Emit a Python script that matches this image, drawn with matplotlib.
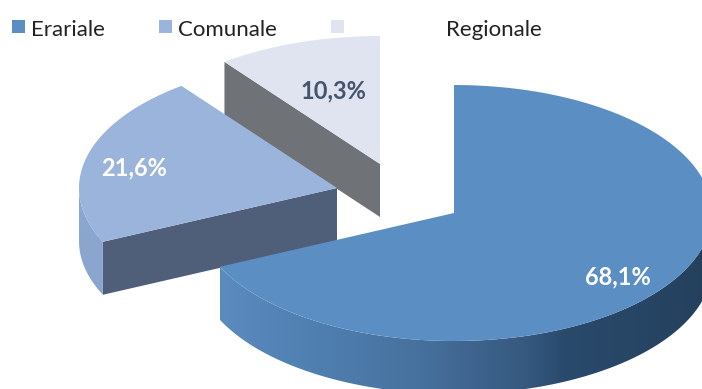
import numpy as np
import matplotlib
matplotlib.use("Agg")
import matplotlib.pyplot as plt
from matplotlib.colors import LinearSegmentedColormap
from matplotlib.patches import Polygon, Rectangle

labels = ["Erariale", "Comunale", "Regionale"]
values = [68.1, 21.6, 10.3]
value_text = ["68,1%", "21,6%", "10,3%"]
top_colors = ["#5b8fc4", "#9ab4dc", "#dfe4f0"]
rim_colors = [[(0, "#5b8bbf"), (0.2, "#4f7fb0"), (0.4, "#47719e"), (0.62, "#36597f"),
               (0.7, "#2a4a6c"), (1, "#24405c")],
              [(0, "#8ba6cf"), (1, "#8ba6cf")],
              [(0, "#c5cad6"), (1, "#c5cad6")]]
wall_colors = ["#3f5f85", "#505f79", "#6f7277"]
text_colors = ["white", "white", "#44546a"]

# pie geometry in pixels
rx = 258
ry = 128
depth = 53
apex = [(454, 213), (337, 188), (380, 164)]
label_pos = [(618, 277), (134, 168), (333, 91)]
legend_box = [12, 159, 331]
legend_text = [31, 178, 446]

plt.rcParams['font.family'] = ['Lato', 'DejaVu Sans']

fig = plt.figure(figsize=(7.02, 3.89), dpi=100)
ax = fig.add_axes([0, 0, 1, 1])


def ellipse_pt(c, t):
    # t in degrees, clockwise from the top of the pie
    r = np.radians(t)
    return c[0] + rx * np.sin(r), c[1] - ry * np.cos(r)


edges = np.concatenate([[0], np.cumsum(values)]) * 3.6
ramp = np.linspace(0, 1, 256).reshape(1, -1)

# back to front: smallest slice first, biggest last
for i in [2, 1, 0]:
    c = apex[i]
    t0, t1 = edges[i], edges[i + 1]
    side_z = -3 - 3 * i
    xs, ys = ellipse_pt(c, np.linspace(t0, t1, 200))

    # inner wall that faces the viewer
    if i > 0:
        p = ellipse_pt(c, t0)
        ax.add_patch(Polygon([p, c, (c[0], c[1] + depth), (p[0], p[1] + depth)],
                             fc=wall_colors[i], ec="none", zorder=side_z))

    # outer rim, only the front half of the ellipse shows
    if t0 < 270:
        rim_x, rim_y = ellipse_pt(c, np.linspace(max(t0, 90), min(t1, 270), 240))
        outline = np.column_stack([np.r_[rim_x, rim_x[::-1]],
                                   np.r_[rim_y, rim_y[::-1] + depth]])
        clip = Polygon(outline, transform=ax.transData, fc="none", ec="none")
        ax.add_patch(clip)
        cmap = LinearSegmentedColormap.from_list("rim%d" % i, rim_colors[i])
        im = ax.imshow(ramp, cmap=cmap, aspect="auto", zorder=side_z,
                       extent=(rim_x.min(), rim_x.max(), 420, 60))
        im.set_clip_path(clip)

    # top face
    pts = np.column_stack([np.r_[c[0], xs], np.r_[c[1], ys]])
    ax.add_patch(Polygon(pts, fc=top_colors[i], ec="none", zorder=side_z + 1))
    ax.text(label_pos[i][0], label_pos[i][1], value_text[i], color=text_colors[i],
            fontsize=17, fontweight="bold", ha="center", va="center", zorder=5)

# legend row
for i in range(3):
    ax.add_patch(Rectangle((legend_box[i], 20), 13, 13, fc=top_colors[i], ec="none", zorder=5))
    ax.text(legend_text[i], 29.5, labels[i], color="#222222", fontsize=16,
            ha="left", va="center", zorder=5)

ax.set_xlim(0, 702)
ax.set_ylim(389, 0)
ax.axis("off")

fig.savefig("out.png", dpi=100)
